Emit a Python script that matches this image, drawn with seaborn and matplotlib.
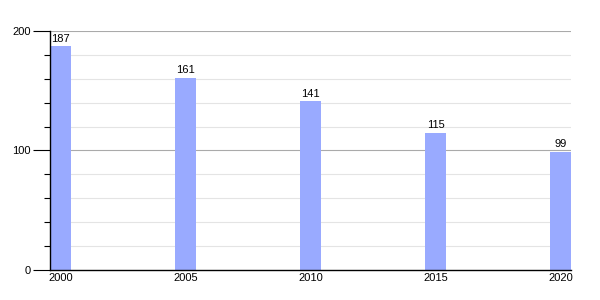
import matplotlib
matplotlib.use("Agg")
import matplotlib.pyplot as plt
import seaborn as sns
import numpy as np

years = [2000, 2005, 2010, 2015, 2020]
values = [187, 161, 141, 115, 99]
bar_color = "#99aaff"

sns.set_style("white")
plt.rcParams['font.family'] = ['Liberation Sans', 'DejaVu Sans']
plt.rcParams['text.color'] = 'black'
plt.rcParams['xtick.color'] = 'black'
plt.rcParams['ytick.color'] = 'black'

fig = plt.figure(figsize=(6, 3), dpi=100)
ax = fig.add_axes([0.0833, 0.1, 0.8687, 0.797])

# gridlines: minor every 20, major every 100
for v in range(20, 200, 20):
    if v % 100:
        ax.axhline(v, color="#e4e4e4", lw=0.8, zorder=0)
for v in (100, 200):
    ax.axhline(v, color="#aaaaaa", lw=0.8, zorder=0)

sns.barplot(x=years, y=values, native_scale=True, width=0.168,
            color=bar_color, saturation=1, linewidth=0, ax=ax, zorder=2)

for x, v in zip(years, values):
    ax.text(x, v + 2, str(v), ha="center", va="bottom", fontsize=8, color="black")

ax.set_xlim(1999.58, 2020.42)
ax.set_ylim(0, 200)
ax.set_xticks(years)
ax.set_xticklabels([str(y) for y in years], fontsize=8)
ax.set_yticks([0, 100, 200])
ax.set_yticklabels(["0", "100", "200"], fontsize=8)
ax.set_yticks(np.arange(0, 201, 20), minor=True)
ax.tick_params(axis="y", which="major", left=True, length=12, width=0.8, color="black", pad=2)
ax.tick_params(axis="y", which="minor", left=True, length=4, width=0.8, color="black")
ax.tick_params(axis="x", length=0, pad=2)

for s in ("top", "right"):
    ax.spines[s].set_visible(False)
for s in ("left", "bottom"):
    ax.spines[s].set_color("black")
    ax.spines[s].set_linewidth(1)
ax.set_xlabel("")
ax.set_ylabel("")

fig.savefig("out.png", dpi=100)
